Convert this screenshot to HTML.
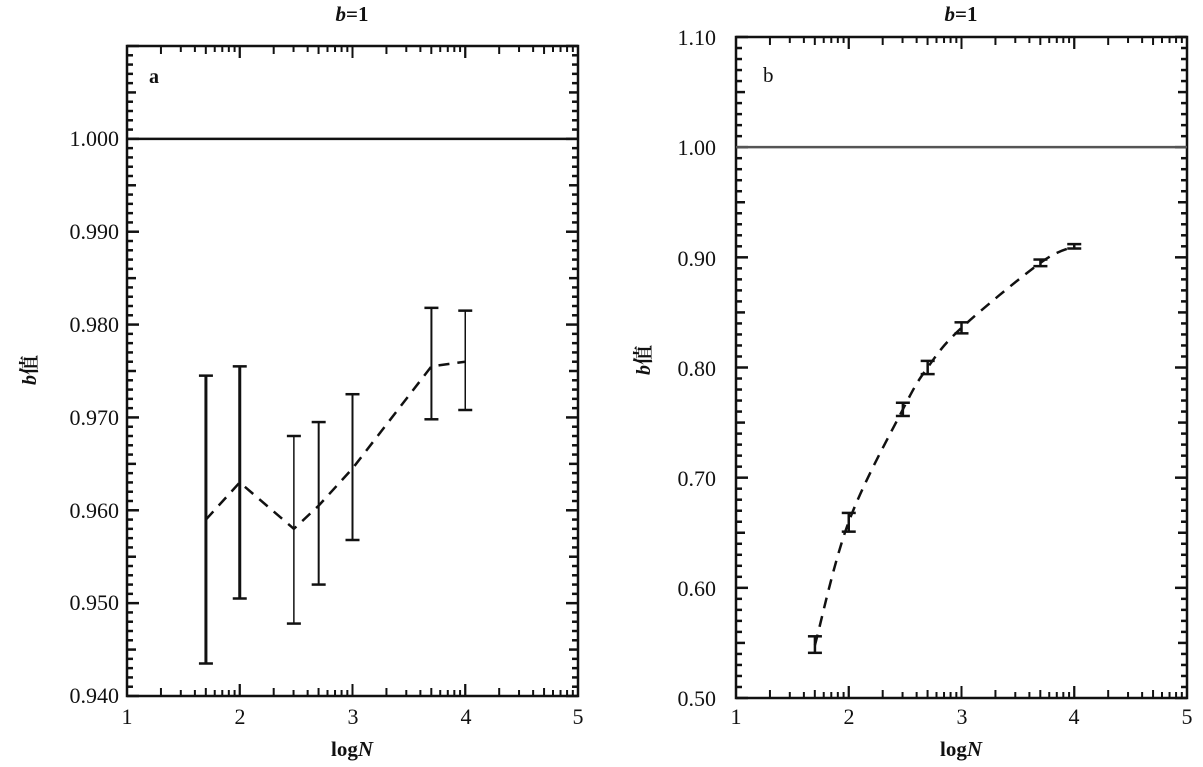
<!DOCTYPE html>
<html><head><meta charset="utf-8"><style>
html,body{margin:0;padding:0;background:#fff;}
svg{display:block;}
text{font-family:"Liberation Serif","Noto Serif CJK SC",serif;fill:#111;}
</style></head><body>
<svg id="s" width="1203" height="767" viewBox="0 0 1203 767" xmlns="http://www.w3.org/2000/svg">
<rect width="1203" height="767" fill="#fff"/>
<g id="g"></g>
<text x="352" y="21" font-size="21" font-weight="bold" text-anchor="middle"><tspan font-style="italic">b</tspan>=1</text>
<text x="149" y="83" font-size="20" font-weight="bold">a</text>
<g font-size="22" text-anchor="end">
<text x="119" y="146">1.000</text>
<text x="119" y="239">0.990</text>
<text x="119" y="332">0.980</text>
<text x="119" y="425">0.970</text>
<text x="119" y="518">0.960</text>
<text x="119" y="610">0.950</text>
<text x="119" y="703">0.940</text>
</g>
<g font-size="22" text-anchor="middle">
<text x="127" y="724">1</text><text x="240" y="724">2</text><text x="353" y="724">3</text><text x="466" y="724">4</text><text x="578" y="724">5</text>
</g>
<text x="352" y="756" font-size="21" font-weight="bold" text-anchor="middle">log<tspan font-style="italic">N</tspan></text>
<text transform="translate(36,370) rotate(-90)" font-size="20" font-weight="bold" text-anchor="middle"><tspan font-style="italic">b</tspan>值</text>
<text x="961" y="21" font-size="21" font-weight="bold" text-anchor="middle"><tspan font-style="italic">b</tspan>=1</text>
<text x="763" y="82" font-size="21">b</text>
<g font-size="22" text-anchor="end">
<text x="716" y="45">1.10</text>
<text x="716" y="155">1.00</text>
<text x="716" y="266">0.90</text>
<text x="716" y="376">0.80</text>
<text x="716" y="486">0.70</text>
<text x="716" y="596">0.60</text>
<text x="716" y="706">0.50</text>
</g>
<g font-size="22" text-anchor="middle">
<text x="736" y="724">1</text><text x="849" y="724">2</text><text x="962" y="724">3</text><text x="1074" y="724">4</text><text x="1187" y="724">5</text>
</g>
<text x="961" y="756" font-size="21" font-weight="bold" text-anchor="middle">log<tspan font-style="italic">N</tspan></text>
<text transform="translate(650,360) rotate(-90)" font-size="20" font-weight="bold" text-anchor="middle"><tspan font-style="italic">b</tspan>值</text>
</svg>
<script>
const NS="http://www.w3.org/2000/svg",G=document.getElementById("g");
function el(t,a){const e=document.createElementNS(NS,t);for(const k in a)e.setAttribute(k,a[k]);G.appendChild(e);return e;}
function line(x1,y1,x2,y2,w,c,d){const a={x1,y1,x2,y2,stroke:c||"#111","stroke-width":w||1.5};if(d)a["stroke-dasharray"]=d;el("line",a);}
function panel(P){
  const X=v=>P.x0+(v-1)*(P.x1-P.x0)/4, Y=v=>P.y1-(v-P.ymin)*(P.y1-P.y0)/(P.ymax-P.ymin);
  el("rect",{x:P.x0,y:P.y0,width:P.x1-P.x0,height:P.y1-P.y0,fill:"none",stroke:"#111","stroke-width":2.5});
  for(let d=1;d<5;d++){for(let k=1;k<=10;k++){const v=d+Math.log10(k);const L=(k==1||k==10)?12:(k==2||k==5)?8:6;
    line(X(v),P.y1,X(v),P.y1-L,2);line(X(v),P.y0,X(v),P.y0+L,2);}}
  const n=Math.round((P.ymax-P.ymin)/P.minor);
  for(let i=0;i<=n;i++){const v=P.ymin+i*P.minor;const L=(i%10==0)?12:(i%5==0)?9:6;
    line(P.x0,Y(v),P.x0+L,Y(v),2.5);line(P.x1,Y(v),P.x1-L,Y(v),2.5);}
  line(P.x0,Y(1),P.x1,Y(1),2.5,P.refc);
  P.data.forEach(d=>{const x=X(d[0]);line(x,Y(d[2]),x,Y(d[3]),d[4]||2.5);line(x-7,Y(d[2]),x+7,Y(d[2]),2.5);line(x-7,Y(d[3]),x+7,Y(d[3]),2.5);});
  let pts=P.data.map(d=>[X(d[0]),Y(d[1])]);
  let dd="M"+pts[0].join(",");
  if(P.smooth){for(let i=0;i<pts.length-1;i++){const p0=pts[Math.max(0,i-1)],p1=pts[i],p2=pts[i+1],p3=pts[Math.min(pts.length-1,i+2)];
    const c1=[p1[0]+(p2[0]-p0[0])/6,p1[1]+(p2[1]-p0[1])/6],c2=[p2[0]-(p3[0]-p1[0])/6,p2[1]-(p3[1]-p1[1])/6];
    dd+=" C"+c1.join(",")+" "+c2.join(",")+" "+p2.join(",");}}
  else pts.slice(1).forEach(p=>dd+=" L"+p.join(","));
  el("path",{d:dd,fill:"none",stroke:"#111","stroke-width":2.5,"stroke-dasharray":"11,8"});
}
panel({x0:127,x1:578,y0:46,y1:696,ymin:0.940,ymax:1.010,minor:0.001,refc:"#111",smooth:false,
 data:[[1.7,0.959,0.9435,0.9745,3],[2,0.963,0.9505,0.9755,3],[2.48,0.958,0.9478,0.968,1.5],[2.7,0.9605,0.952,0.9695,2],[3,0.9645,0.9568,0.9725,2],[3.7,0.9755,0.9698,0.9818,2],[4,0.976,0.9708,0.9815,1.5]]});
panel({x0:736,x1:1187,y0:37,y1:698,ymin:0.50,ymax:1.10,minor:0.01,refc:"#555",smooth:true,
 data:[[1.7,0.548,0.541,0.556],[2,0.66,0.651,0.668],[2.48,0.762,0.756,0.768],[2.7,0.80,0.794,0.806],[3,0.836,0.831,0.841],[3.7,0.895,0.892,0.898],[4,0.91,0.908,0.912]]});
</script>
</body></html>
